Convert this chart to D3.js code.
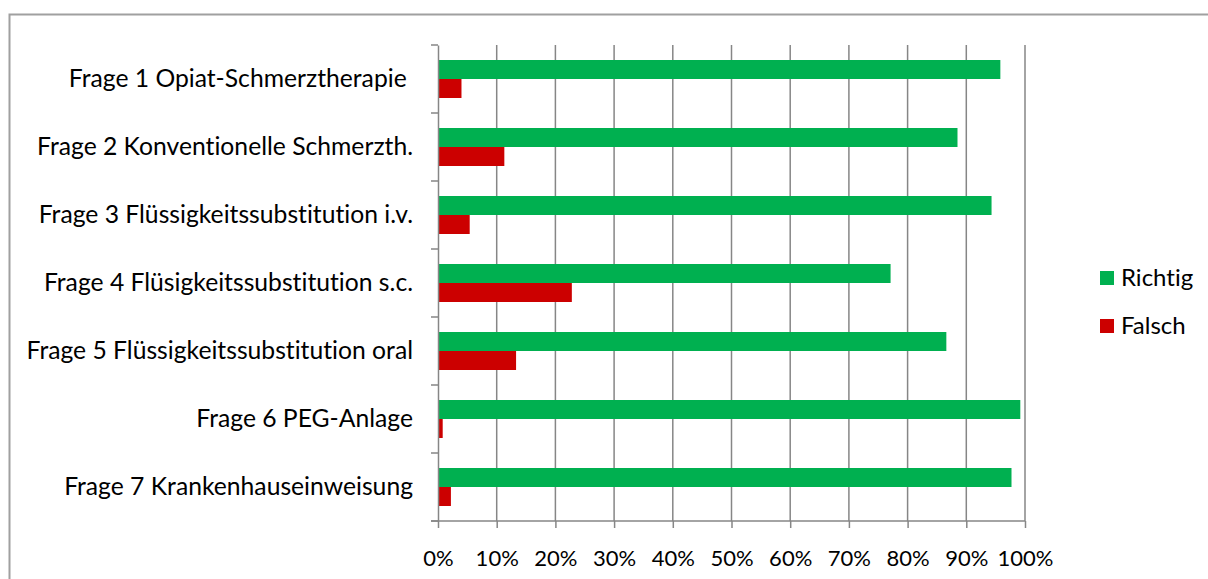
<!DOCTYPE html>
<html>
<head>
<meta charset="utf-8">
<script src="https://cdn.jsdelivr.net/npm/d3@7"></script>
<style>
  html, body { margin: 0; padding: 0; background: #fff; }
  svg { display: block; }
  text { font-family: Lato, "Open Sans", sans-serif; fill: #000; font-variant-ligatures: none; font-feature-settings: "liga" 0; }
</style>
</head>
<body>
<svg id="chart" width="1208" height="579"></svg>
<script>
// Survey answers per question, share of respondents (%)
const categories = [
  "Frage 1 Opiat-Schmerztherapie ",
  "Frage 2 Konventionelle Schmerzth.",
  "Frage 3 Flüssigkeitssubstitution i.v.",
  "Frage 4 Flüsigkeitssubstitution s.c.",
  "Frage 5 Flüssigkeitssubstitution oral",
  "Frage 6 PEG-Anlage",
  "Frage 7 Krankenhauseinweisung"
];
const richtig = [95.8, 88.5, 94.3, 77.1, 86.6, 99.2, 97.7];
const falsch  = [4.0, 11.3, 5.4, 22.8, 13.3, 0.8, 2.2];
const seriesNames = ["Richtig", "Falsch"];
const seriesColors = ["#00B050", "#CC0000"];
const xTicks = [0, 10, 20, 30, 40, 50, 60, 70, 80, 90, 100];

const svg = d3.select("#chart");
const W = 1208, H = 579;
const plot = { left: 438, right: 1025, top: 45, bottom: 521 };

// outer chart frame
svg.append("rect")
  .attr("x", 9.5).attr("y", 14.5)
  .attr("width", W + 20).attr("height", H + 20)
  .attr("fill", "none").attr("stroke", "#a0a0a0").attr("stroke-width", 2);

const x = d3.scaleLinear().domain([0, 100]).range([plot.left, plot.right]);
const y = d3.scaleBand().domain(categories).range([plot.top, plot.bottom]);
const ySub = d3.scaleBand().domain(seriesNames).range([0, y.bandwidth()]).paddingOuter(0.79).paddingInner(0);

const grid = "#868686";

// vertical gridlines
svg.append("g")
  .selectAll("line")
  .data(xTicks.slice(1))
  .join("line")
  .attr("x1", d => x(d)).attr("x2", d => x(d))
  .attr("y1", plot.top).attr("y2", plot.bottom)
  .attr("stroke", grid).attr("stroke-width", 1.5);

// bars
const rows = categories.map((c, i) => ({ c, vals: [richtig[i], falsch[i]] }));
const gRows = svg.append("g").selectAll("g")
  .data(rows)
  .join("g")
  .attr("transform", d => `translate(0,${y(d.c)})`);

gRows.selectAll("rect")
  .data(d => d.vals.map((v, k) => ({ v, k })))
  .join("rect")
  .attr("x", x(0))
  .attr("y", d => ySub(seriesNames[d.k]))
  .attr("width", d => x(d.v) - x(0))
  .attr("height", ySub.bandwidth())
  .attr("fill", d => seriesColors[d.k]);

// category axis (left)
const yAxis = d3.axisLeft(y).tickSize(0).tickPadding(25);
const gy = svg.append("g").attr("transform", `translate(${plot.left},0)`).call(yAxis);
gy.select(".domain").attr("stroke", grid).attr("stroke-width", 1.5);
gy.selectAll("text")
  .attr("font-size", 24.7)
  .attr("font-family", "Lato, sans-serif")
  .style("white-space", "pre");
// boundary tick marks between categories
const bounds = categories.map(c => y(c)).concat([plot.bottom]);
svg.append("g").selectAll("line")
  .data(bounds)
  .join("line")
  .attr("x1", plot.left - 7).attr("x2", plot.left)
  .attr("y1", d => d).attr("y2", d => d)
  .attr("stroke", grid).attr("stroke-width", 1.5);

// value axis (bottom)
const xAxis = d3.axisBottom(x).tickValues(xTicks).tickFormat(d => d + "%").tickSize(7).tickPadding(22);
const gx = svg.append("g").attr("transform", `translate(0,${plot.bottom})`).call(xAxis);
gx.select(".domain").attr("stroke", grid).attr("stroke-width", 1.5)
  .attr("d", `M${plot.left - 7},0H${plot.right}`);
gx.selectAll(".tick line").attr("stroke", grid).attr("stroke-width", 1.5);
gx.selectAll("text").attr("font-size", 22).attr("font-family", "Lato, sans-serif");

// legend
const legend = svg.append("g").attr("transform", "translate(1100,271)");
const li = legend.selectAll("g").data(seriesNames).join("g")
  .attr("transform", (d, i) => `translate(0,${i * 48})`);
li.append("rect").attr("width", 14).attr("height", 14)
  .attr("fill", (d, i) => seriesColors[i]);
li.append("text").attr("x", 21).attr("y", 7).attr("dy", "0.35em")
  .attr("font-size", 24).text(d => d);
</script>
</body>
</html>
